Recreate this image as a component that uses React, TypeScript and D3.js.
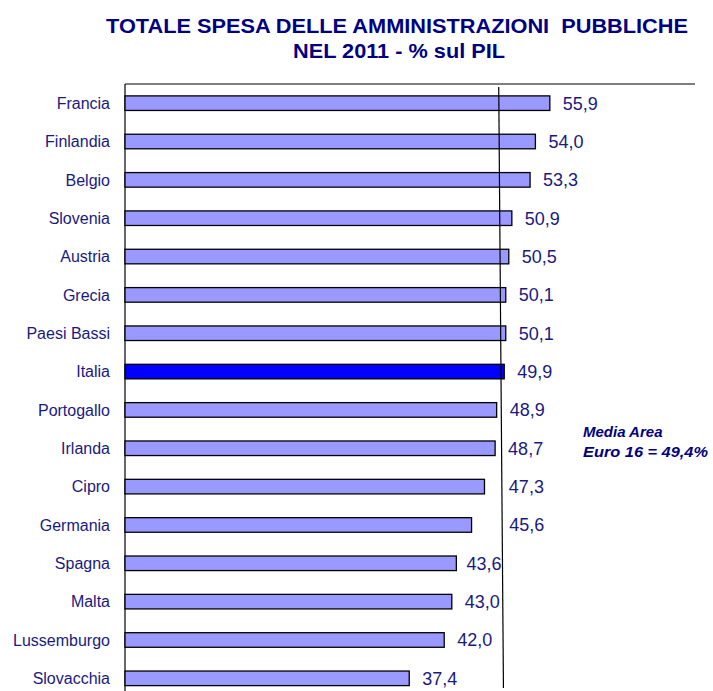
import React from "react";
import * as d3 from "d3";

const countries = [
  "Francia", "Finlandia", "Belgio", "Slovenia", "Austria", "Grecia", "Paesi Bassi", "Italia",
  "Portogallo", "Irlanda", "Cipro", "Germania", "Spagna", "Malta", "Lussemburgo", "Slovacchia",
];
const values = [55.9, 54.0, 53.3, 50.9, 50.5, 50.1, 50.1, 49.9, 48.9, 48.7, 47.3, 45.6, 43.6, 43.0, 42.0, 37.4];
const highlight = "Italia";
const mediaValue = 49.4;
const titleLines = ["TOTALE SPESA DELLE AMMINISTRAZIONI  PUBBLICHE", "NEL 2011 - % sul PIL"];
const noteLines = ["Media Area", "Euro 16 = 49,4%"];

const W = 713;
const H = 691;
const FONT = "'Liberation Sans', Arial, sans-serif";
const NAVY = "#000080";
const LABEL = "#1a1a7e";
const VALUE_FS = 18;

export default function App() {
  const x = d3.scaleLinear().domain([0, 75]).range([125, 695]);
  const y = d3
    .scaleBand<string>()
    .domain(countries)
    .range([84, 697.5])
    .paddingInner(0.62)
    .paddingOuter(0.31);
  const bw = y.bandwidth();
  const fmt = (v: number) => v.toFixed(1).replace(".", ",");
  const mx = x(mediaValue);
  const lineTop = 87;
  const lineBottom = 688;
  const lx1 = mx - 1.7;
  const lx2 = mx + 3;
  const lineXAt = (yy: number) => lx1 + ((lx2 - lx1) * (yy - lineTop)) / (lineBottom - lineTop);

  const labelX = (v: number, cy: number) => {
    const s = fmt(v);
    let w = 0;
    for (const ch of s) w += ch === "," ? 0.278 : 0.556;
    w *= VALUE_FS;
    const lx = lineXAt(cy);
    let start = x(v) + 13;
    if (start < lx && start + w > lx - 1) {
      const over = start + w - (lx - 1);
      if (over <= 4) start = lx - 1 - w;
      else start = lx + 7;
    }
    return start;
  };

  return (
    <svg
      width={W}
      height={H}
      style={{ position: "absolute", left: 0, top: 0, display: "block", background: "#fff" }}
      fontFamily={FONT}
    >
      <text x={397} y={32.5} textAnchor="middle" fontSize={20} fontWeight="bold" fill={NAVY}
        textLength={582} lengthAdjust="spacingAndGlyphs" style={{ whiteSpace: "pre" }}>
        {titleLines[0]}
      </text>
      <text x={399} y={58.3} textAnchor="middle" fontSize={20} fontWeight="bold" fill={NAVY}
        textLength={212} lengthAdjust="spacingAndGlyphs">
        {titleLines[1]}
      </text>

      {/* frame lines */}
      <line x1={x(0)} x2={x(75)} y1={84} y2={84} stroke="#000" strokeWidth={1.2} />
      <line x1={x(0)} x2={x(0)} y1={84} y2={H} stroke="#000" strokeWidth={1.2} />

      {countries.map((c, i) => {
        const yy = y(c)!;
        const v = values[i];
        const cy = yy + bw / 2;
        return (
          <g key={c}>
            <rect x={x(0)} y={yy} width={x(v) - x(0)} height={bw}
              fill={c === highlight ? "#0000ff" : "#9999ff"} stroke="#000" strokeWidth={1.3} />
            <text x={110} y={cy + 5.7} textAnchor="end" fontSize={16} fill={LABEL}>{c}</text>
            <text x={labelX(v, cy)} y={cy + 6.4} fontSize={VALUE_FS} fill={LABEL}>{fmt(v)}</text>
          </g>
        );
      })}

      {/* media line */}
      <line x1={lx1} x2={lx2} y1={lineTop} y2={lineBottom} stroke="#000" strokeWidth={1.2} />

      <text x={583} y={436.7} fontSize={15} fontWeight="bold" fontStyle="italic" fill={NAVY}>{noteLines[0]}</text>
      <text x={583} y={456.7} fontSize={15} fontWeight="bold" fontStyle="italic" fill={NAVY}
        textLength={125} lengthAdjust="spacingAndGlyphs">{noteLines[1]}</text>
    </svg>
  );
}
